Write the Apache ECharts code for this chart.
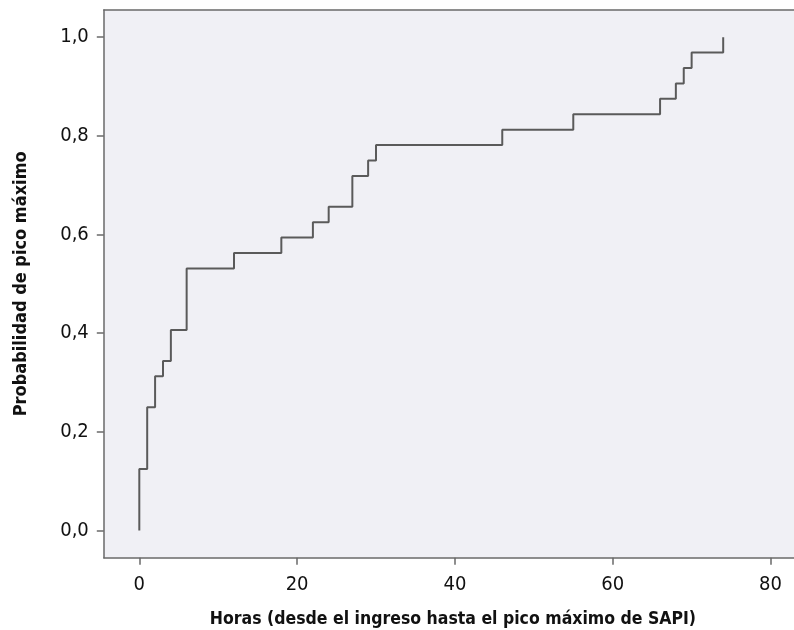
<!DOCTYPE html>
<html>
<head>
<meta charset="utf-8">
<script src="https://cdn.jsdelivr.net/npm/echarts@6/dist/echarts.min.js"></script>
<style>
  html, body { margin: 0; padding: 0; background: #fff; }
  #main { width: 794px; height: 630px; }
</style>
</head>
<body>
<div id="main"></div>
<script>
// horas en que ocurre cada escalón
var horas = [0, 0, 1, 2, 3, 4, 6, 12, 18, 22, 24, 27, 29, 30, 46, 55, 66, 68, 69, 70, 74];
// probabilidad acumulada tras cada escalón
var probabilidad = [0, 0.125, 0.25, 0.3125, 0.34375, 0.40625, 0.53125, 0.5625, 0.59375, 0.625,
    0.65625, 0.71875, 0.75, 0.78125, 0.8125, 0.84375, 0.875, 0.90625, 0.9375, 0.96875, 1.0];
// marcas de los ejes
var ticksX = [0, 20, 40, 60, 80];
var ticksY = [0, 0.2, 0.4, 0.6, 0.8, 1.0];

var fuente = "'Liberation Sans Narrow', 'DejaVu Sans Condensed', 'Arial Narrow', sans-serif";
var gris = '#6a6a6a';

var puntos = horas.map(function (h, i) { return [h, probabilidad[i]]; });

var chart = echarts.init(document.getElementById('main'));

var option = {
    animation: false,
    grid: {
        left: 103.8,
        top: 10,
        width: 698.3,
        height: 547.7,
        outerBoundsMode: 'none',
        containLabel: false,
        show: true,
        backgroundColor: '#f0f0f5',
        borderWidth: 0
    },
    xAxis: [{
        type: 'value',
        min: -4.5,
        max: 84,
        name: 'Horas (desde el ingreso hasta el pico máximo de SAPI)',
        nameLocation: 'middle',
        nameGap: 53,
        nameTextStyle: { fontFamily: fuente, fontSize: 17.5, fontWeight: 'bold', color: '#111' },
        splitLine: { show: false },
        axisLine: { show: true, onZero: false, lineStyle: { color: gris, width: 1.5 } },
        axisTick: { show: true, length: 7, customValues: ticksX, lineStyle: { color: gris, width: 1.5 } },
        axisLabel: {
            customValues: ticksX,
            margin: 17,
            fontFamily: fuente,
            fontSize: 20,
            color: '#111'
        }
    }, {
        // borde superior del marco
        type: 'value',
        position: 'top',
        min: -4.5,
        max: 84,
        splitLine: { show: false },
        axisLine: { show: true, onZero: false, lineStyle: { color: gris, width: 1.5 } },
        axisTick: { show: false },
        axisLabel: { show: false }
    }],
    yAxis: {
        type: 'value',
        min: -0.055,
        max: 1.055,
        name: 'Probabilidad de pico máximo',
        nameLocation: 'middle',
        nameGap: 73,
        nameTextStyle: { fontFamily: fuente, fontSize: 18, fontWeight: 'bold', color: '#111' },
        splitLine: { show: false },
        axisLine: { show: true, onZero: false, lineStyle: { color: gris, width: 1.5 } },
        axisTick: { show: true, length: 7, customValues: ticksY, lineStyle: { color: gris, width: 1.5 } },
        axisLabel: {
            customValues: ticksY,
            margin: 15,
            fontFamily: fuente,
            fontSize: 20,
            color: '#111',
            formatter: function (v) { return v.toFixed(1).replace('.', ','); }
        }
    },
    series: [{
        type: 'line',
        step: 'end',
        xAxisIndex: 0,
        data: puntos,
        showSymbol: false,
        lineStyle: { color: '#5a5a5a', width: 2 }
    }]
};

chart.setOption(option);
</script>
</body>
</html>
